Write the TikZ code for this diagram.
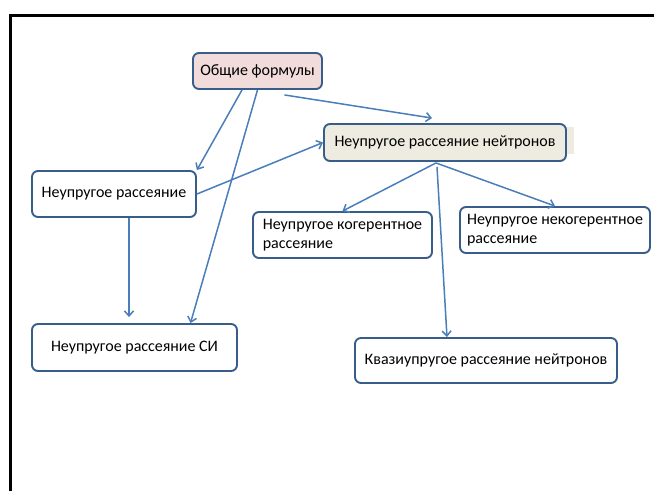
\documentclass[tikz,border=0pt]{standalone}
\usepackage{fontspec}
\setmainfont{Carlito}
\usetikzlibrary{arrows.meta}
\definecolor{boxblue}{RGB}{56,93,138}
\definecolor{lineblue}{RGB}{74,126,187}
\definecolor{pinkfill}{RGB}{242,220,219}
\definecolor{beigefill}{RGB}{238,236,225}
\newcommand{\boxfont}{\fontsize{16}{19}\selectfont}

\begin{document}
\begin{tikzpicture}
  [x=1pt, y=1pt,
   box/.style={draw=boxblue, line width=1.9pt, rounded corners=6pt,
               inner sep=0pt, font=\boxfont, text=black},
   link/.style={draw=lineblue, line width=1.5pt,
                -{Straight Barb[length=5pt,width=9pt]}}]
  \useasboundingbox (0, 0) rectangle (654, -491);
  \draw[line width=2.6pt] (10.3, -491) -- (10.3, -15.3) -- (654, -15.3);

  \fill[beigefill] (324, -127) rectangle (574, -154);
  \node[box, fill=pinkfill, minimum width=129, minimum height=36]
    (gen) at (257.5, -71) {Общие формулы};
  \node[box, fill=beigefill, minimum width=242, minimum height=37]
    (neut) at (445, -142.5) {Неупругое рассеяние нейтронов};
  \node[box, minimum width=164, minimum height=46]
    (inel) at (114, -194) {Неупругое рассеяние};
  \node[box, minimum width=205, minimum height=47]
    (si) at (134.5, -347.5) {Неупругое рассеяние СИ};
  \node[box, minimum width=179, minimum height=46, align=left]
    (coh) at (342.5, -235) {Неупругое когерентное\\рассеяние};
  \node[box, minimum width=190, minimum height=46, align=left]
    (incoh) at (555, -230) {Неупругое некогерентное\\рассеяние};
  \node[box, minimum width=262, minimum height=45]
    (quasi) at (486, -360.5) {Квазиупругое рассеяние нейтронов};

  \draw[link] ([xshift=-15.5pt]gen.south) -- (inel.north east);
  \draw[link] (gen.south) -- ([xshift=56pt]si.north);
  \draw[link] ([xshift=27pt,yshift=-5pt]gen.south) -- ([xshift=-13pt,yshift=5pt]neut.north);
  \draw[link] (inel.east) -- (neut.west);
  \draw[link] ([xshift=15pt]inel.south) -- ([xshift=-5.5pt,yshift=6pt]si.north);
  \draw[link] ([xshift=-9pt,yshift=-1pt]neut.south) -- (coh.north);
  \draw[link] ([xshift=-9pt,yshift=-1pt]neut.south) -- (incoh.north);
  \draw[link] ([xshift=-8pt,yshift=-5pt]neut.south) -- ([xshift=-39pt]quasi.north);
\end{tikzpicture}
\end{document}
